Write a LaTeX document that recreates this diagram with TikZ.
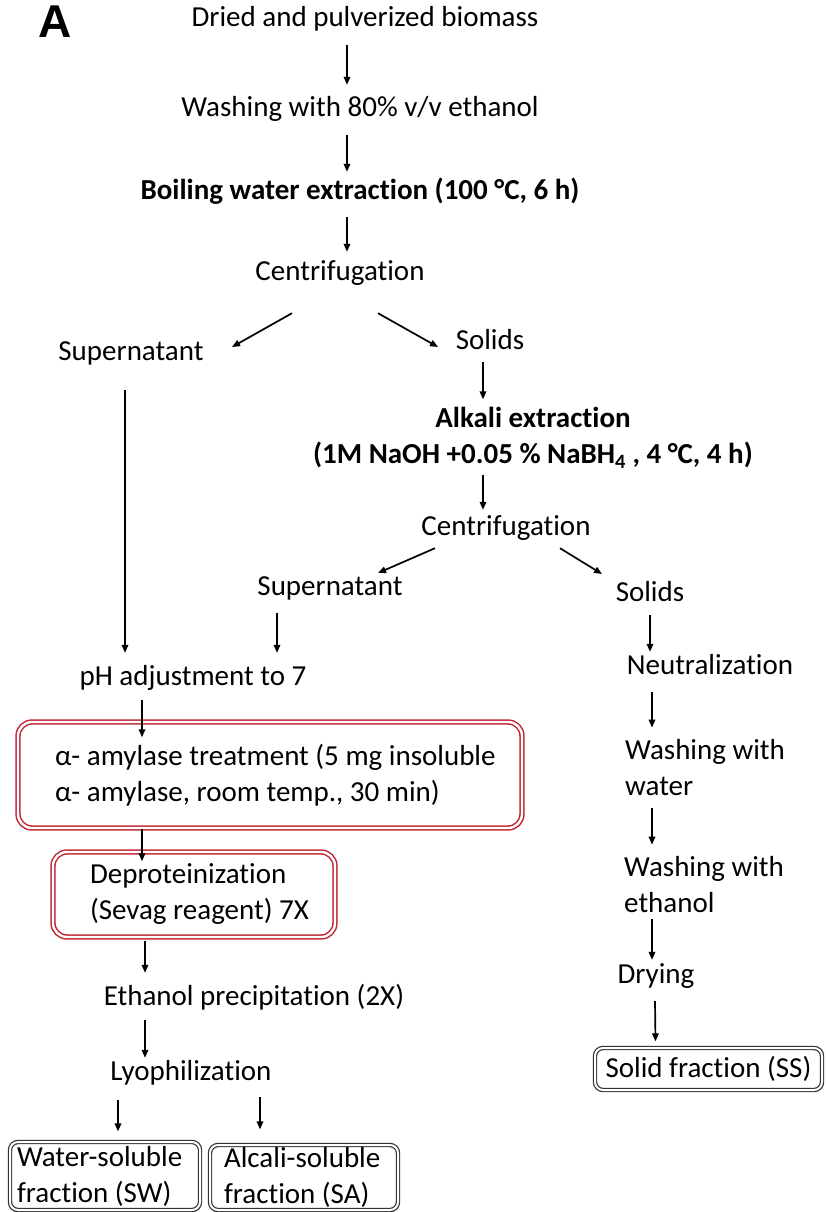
\documentclass[tikz,border=0pt]{standalone}
\usepackage{fontspec}
\setmainfont{Carlito}[RawFeature={-liga;-clig;-calt;-dlig}]
\newfontfamily\panelfont{Liberation Sans}
\definecolor{boxred}{RGB}{192, 38, 52}
\definecolor{boxgrey}{RGB}{50, 50, 50}
\newcommand{\flowfont}{\fontsize{29}{36}\selectfont}
\usetikzlibrary{arrows.meta}

\begin{document}
\begin{tikzpicture}[x=1pt, y=-1pt,
    stage/.style={font=\flowfont, inner xsep=0pt, inner ysep=12pt, text height=20pt, text depth=6pt},
    stagetwo/.style={font=\flowfont, inner xsep=0pt, inner ysep=12pt},
    redbox/.style={draw=boxred, line width=1.5pt, double=white, double distance=2.4pt,
                   rounded corners=14pt, font=\flowfont, align=flush left, inner ysep=0pt},
    fracbox/.style={draw=boxgrey, line width=1.2pt, double=white, double distance=2pt,
                    rounded corners=8pt, font=\flowfont, align=flush left, inner ysep=0pt},
    arr/.style={-{Triangle[length=8pt, width=6.5pt]}, line width=1.7pt}]
    \useasboundingbox (0,0) rectangle (825,1212);

    % panel letter
    \node[font=\panelfont\bfseries\fontsize{46}{46}\selectfont] (panel) at (55,22) {A};

    % water extraction
    \node[stage] (dried) at (365,20) {Dried and pulverized biomass};
    \node[stage] (wash) at (360,110) {Washing with 80\% v/v ethanol};
    \node[stage, font=\flowfont\bfseries] (boil) at (360,192) {Boiling water extraction (100 °C, 6 h)};
    \node[stage] (cent1) at (340,273) {Centrifugation};
    \node[stage] (sup1) at (131,353) {Supernatant};
    \node[stage] (sol1) at (490,342) {Solids};

    % alkali extraction
    \node[stagetwo, font=\flowfont\bfseries, align=center] (alk) at (533,438)
        {Alkali extraction\\(1M NaOH +0.05 \% NaBH\textsubscript{4} , 4 °C, 4 h)};
    \node[stage] (cent2) at (506,528) {Centrifugation};
    \node[stage] (sup2) at (330,588) {Supernatant};
    \node[stage] (sol2) at (650,594) {Solids};

    % soluble fractions
    \node[stage] (ph) at (193,678) {pH adjustment to 7};
    \node[redbox, text width=430pt, inner xsep=37pt, minimum height=106pt] (amyl) at (270,775)
        {\mbox{α- amylase treatment (5 mg insoluble}\\\mbox{α- amylase, room temp., 30 min)}};
    \node[redbox, text width=208pt, inner xsep=37pt, minimum height=85pt] (deprot) at (194,894.5)
        {\mbox{Deproteinization}\\\mbox{(Sevag reagent) 7X}};
    \node[stage] (etoh) at (254,998) {Ethanol precipitation (2X)};
    \node[stage] (lyo) at (191,1073) {Lyophilization};
    \node[fracbox, text width=176pt, inner xsep=7pt, minimum height=68pt] (sw) at (105,1176)
        {\mbox{Water-soluble}\\\mbox{fraction (SW)}};
    \node[fracbox, text width=160pt, inner xsep=14pt, minimum height=65pt] (sa) at (304,1177.5)
        {\mbox{Alcali-soluble}\\\mbox{fraction (SA)}};

    % solid fraction
    \node[stage] (neut) at (710,667) {Neutralization};
    \node[stagetwo, align=left, anchor=west] (wwater) at (625,768) {Washing with\\water};
    \node[stagetwo, align=left, anchor=west] (wetoh) at (624,885) {Washing with\\ethanol};
    \node[stage] (dry) at (656,976) {Drying};
    \node[fracbox, align=center, inner xsep=10pt, minimum width=227pt, minimum height=42pt] (ss) at (708.5,1069)
        {Solid fraction (SS)};

    % arrows, main line
    \draw[arr] ([xshift=-18pt]dried.south) -- ([xshift=-13pt]wash.north);
    \draw[arr] ([xshift=-13pt]wash.south) -- ([xshift=-13pt,yshift=-5pt]boil.north);
    \draw[arr] ([xshift=-13pt]boil.south) -- ([xshift=7pt,yshift=-4pt]cent1.north);
    \draw[arr] ([xshift=-48pt,yshift=-15pt]cent1.south) -- ([xshift=101pt,yshift=6pt]sup1.center);
    \draw[arr] ([xshift=38pt,yshift=-15pt]cent1.south) -- ([xshift=-52pt,yshift=-5pt]sol1.center);
    \draw[arr] ([xshift=-7pt,yshift=5pt]sol1.south) -- ([xshift=-50pt,yshift=-4pt]alk.north);
    \draw[arr] ([xshift=-50pt,yshift=6pt]alk.south) -- ([xshift=-23pt,yshift=-7pt]cent2.north);
    \draw[arr] ([xshift=-71pt,yshift=5pt]cent2.south) -- ([xshift=48pt,yshift=15pt]sup2.center);
    \draw[arr] ([xshift=54pt,yshift=5pt]cent2.south) -- ([xshift=-48pt,yshift=20pt]sol2.center);

    % arrows, left branch
    \draw[arr] ([xshift=-6pt,yshift=-12pt]sup1.south) -- ([xshift=-68pt]ph.north);
    \draw[arr] ([xshift=-53pt]sup2.south) -- ([xshift=84pt]ph.north);
    \draw[arr] ([xshift=-51pt,yshift=3pt]ph.south) -- ([xshift=-128pt,yshift=-16pt]amyl.north);
    \draw[arr] ([xshift=-128pt]amyl.south) -- ([xshift=-52pt,yshift=-10pt]deprot.north);
    \draw[arr] ([xshift=-49pt,yshift=-3pt]deprot.south) -- ([xshift=-109pt]etoh.north);
    \draw[arr] ([xshift=-109pt,yshift=3pt]etoh.south) -- ([xshift=-46pt,yshift=-10pt]lyo.north);
    \draw[arr] ([xshift=-73pt,yshift=-2pt]lyo.south) -- ([xshift=13pt,yshift=10pt]sw.north);
    \draw[arr] ([xshift=69pt,yshift=1pt]lyo.south) -- ([xshift=-44pt,yshift=15pt]sa.north);

    % arrows, right branch
    \draw[arr] ([yshift=4pt]sol2.south) -- ([xshift=-60pt,yshift=-10pt]neut.north);
    \draw[arr] ([xshift=-58pt]neut.south) -- ([xshift=27pt]wwater.north west);
    \draw[arr] ([xshift=27pt]wwater.south west) -- ([xshift=28pt]wetoh.north west);
    \draw[arr] ([xshift=28pt,yshift=6pt]wetoh.south west) -- ([xshift=-4pt,yshift=-9pt]dry.north);
    \draw[arr] ([xshift=-1pt]dry.south) -- ([xshift=-53pt,yshift=6pt]ss.north);
\end{tikzpicture}
\end{document}
